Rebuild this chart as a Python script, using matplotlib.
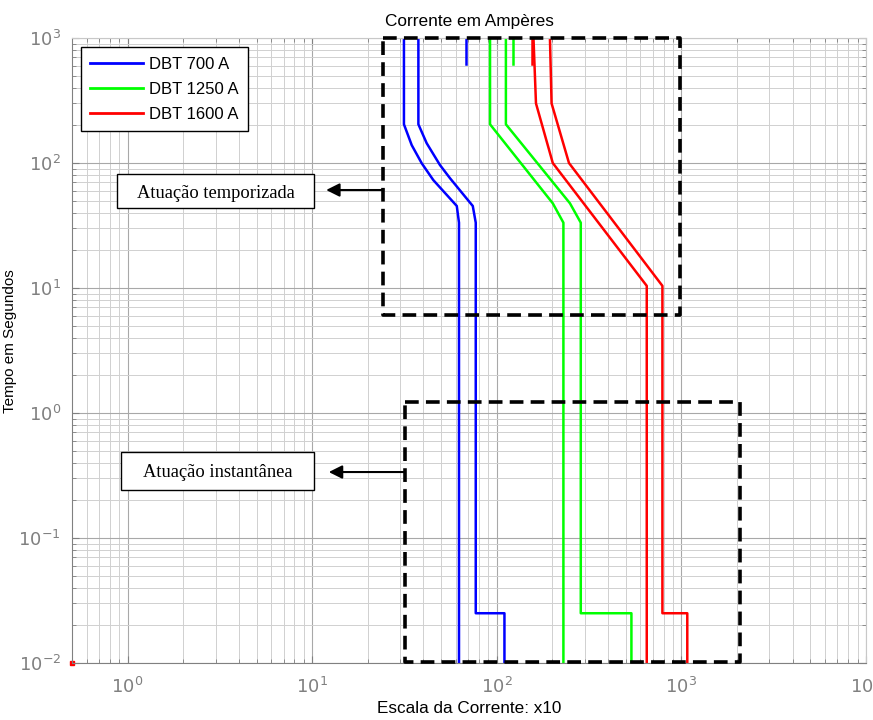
import matplotlib
matplotlib.use("Agg")
import matplotlib.pyplot as plt
from matplotlib.patches import Rectangle
from matplotlib.ticker import LogLocator, NullFormatter

plt.rcParams["mathtext.fontset"] = "custom"
plt.rcParams["mathtext.rm"] = "Liberation Sans"
plt.rcParams["mathtext.it"] = "Liberation Sans:italic"
plt.rcParams["mathtext.bf"] = "Liberation Sans:bold"

# curvas tempo x corrente dos disjuntores (corrente em x10 A, tempo em s)
blue_min_x = [31.4, 31.4, 34.6, 39.2, 45.3, 60.7, 62.4, 62.4]
blue_min_y = [1000, 204, 139, 99.5, 73, 45.3, 33.3, 0.01]
blue_max_x = [37.6, 37.6, 41.7, 49.2, 55.8, 74.1, 76.9, 76.9, 110, 110]
blue_max_y = [1000, 204, 144, 96.4, 75.5, 45.3, 33.3, 0.025, 0.025, 0.01]

green_min_x = [91.9, 91.9, 201, 229.5, 229.5]
green_min_y = [1000, 204, 47.6, 33.3, 0.01]
green_max_x = [112, 112, 249, 285, 285, 536, 536]
green_max_y = [1000, 204, 47.6, 33.3, 0.025, 0.025, 0.01]

red_min_x = [158, 163, 201, 649, 649]
red_min_y = [1000, 300, 100, 10.4, 0.01]
red_max_x = [194, 198, 246, 789, 789, 1076, 1076]
red_max_y = [1000, 300, 100, 10.4, 0.025, 0.025, 0.01]

# pedacos curtos no topo do grafico
stub_x = {"#0000ff": 68, "#00ff00": 122, "#ff0000": 156}
stub_y = [1000, 616]

# regioes de atuacao (xmin, xmax, ymin, ymax)
box_temp = (24.3, 984, 6.08, 1000)
box_inst = (31.8, 2078, 0.0102, 1.23)

labels = ["DBT 700 A", "DBT 1250 A", "DBT 1600 A"]

fig = plt.figure(figsize=(8.73, 7.2), dpi=100)
ax = fig.add_axes([0.0825, 0.0792, 0.9095, 0.868])
ax.set_xscale("log")
ax.set_yscale("log")

l1, = ax.plot(blue_min_x, blue_min_y, color="#0000ff", lw=1.8)
ax.plot(blue_max_x, blue_max_y, color="#0000ff", lw=1.8)
l2, = ax.plot(green_min_x, green_min_y, color="#00ff00", lw=1.8)
ax.plot(green_max_x, green_max_y, color="#00ff00", lw=1.8)
l3, = ax.plot(red_min_x, red_min_y, color="#ff0000", lw=1.8)
ax.plot(red_max_x, red_max_y, color="#ff0000", lw=1.8)

for c, sx in stub_x.items():
    ax.plot([sx, sx], stub_y, color=c, lw=1.8)

# ponto vermelho no canto
ax.plot([0.5], [0.01], "s", color="red", ms=3, clip_on=False)

for bx in (box_temp, box_inst):
    x0, x1, y0, y1 = bx
    ax.plot([x0, x1, x1, x0, x0], [y1, y1, y0, y0, y1], color="black",
            lw=2.6, dashes=(3.8, 2.0), clip_on=False, zorder=5)

ax.set_xlim(0.5, 1e4)
ax.set_ylim(0.01, 1000)

ax.xaxis.set_minor_locator(LogLocator(base=10, subs=range(2, 10), numticks=20))
ax.yaxis.set_minor_locator(LogLocator(base=10, subs=range(2, 10), numticks=20))
ax.xaxis.set_minor_formatter(NullFormatter())
ax.yaxis.set_minor_formatter(NullFormatter())
ax.grid(True, which="major", color="#a8a8a8", lw=0.8)
ax.grid(True, which="minor", color="#d0d0d0", lw=0.7)
ax.set_axisbelow(True)

ax.tick_params(which="both", direction="in", top=True, right=True,
               color="#808080", labelcolor="#808080", labelsize=13)
ax.tick_params(which="major", length=5)
ax.tick_params(which="minor", length=3)
ax.tick_params(axis="x", pad=10)
ax.tick_params(axis="y", pad=8)
for s in ["left", "bottom"]:
    ax.spines[s].set_color("#808080")
for s in ["top", "right"]:
    ax.spines[s].set_color("#c8c8c8")

ax.set_title("Corrente em Ampères", fontsize=12.4, pad=9, family="Liberation Sans")
ax.set_xlabel("Escala da Corrente: x10", fontsize=12.3, family="Liberation Sans", labelpad=3)
ax.set_ylabel("Tempo em Segundos", fontsize=11, family="Liberation Sans")
ax.yaxis.set_label_coords(-0.069, 0.515)

leg = ax.legend([l1, l2, l3], labels, loc="upper left", bbox_to_anchor=(0.011, 0.985),
                borderaxespad=0, handlelength=3.2, handletextpad=0.35, labelspacing=0.6,
                borderpad=0.55, fancybox=False, framealpha=1, edgecolor="black",
                prop={"family": "Liberation Sans", "size": 12})
leg.get_frame().set_linewidth(1.0)
for h in leg.get_lines():
    h.set_linewidth(2)

# caixas de texto com setas
ax.add_patch(Rectangle((0.0567, 0.728), 0.2481, 0.0544, transform=ax.transAxes,
                       facecolor="white", edgecolor="black", lw=1, zorder=6))
ax.text(0.1808, 0.752, "Atuação temporizada", transform=ax.transAxes,
        ha="center", va="center", family="Liberation Serif", fontsize=13.3, zorder=7)
ax.add_patch(Rectangle((0.0617, 0.2768), 0.2431, 0.0602, transform=ax.transAxes,
                       facecolor="white", edgecolor="black", lw=1, zorder=6))
ax.text(0.1833, 0.305, "Atuação instantânea", transform=ax.transAxes,
        ha="center", va="center", family="Liberation Serif", fontsize=13.3, zorder=7)

ax.annotate("", xy=(11.9, 60.8), xytext=(24.3, 60.8),
            arrowprops=dict(arrowstyle="-|>", color="black", lw=1.5,
                            mutation_scale=20, shrinkA=0, shrinkB=0), zorder=7)
ax.annotate("", xy=(12.3, 0.337), xytext=(31.8, 0.337),
            arrowprops=dict(arrowstyle="-|>", color="black", lw=1.5,
                            mutation_scale=20, shrinkA=0, shrinkB=0), zorder=7)

fig.savefig("out.png", dpi=100)
